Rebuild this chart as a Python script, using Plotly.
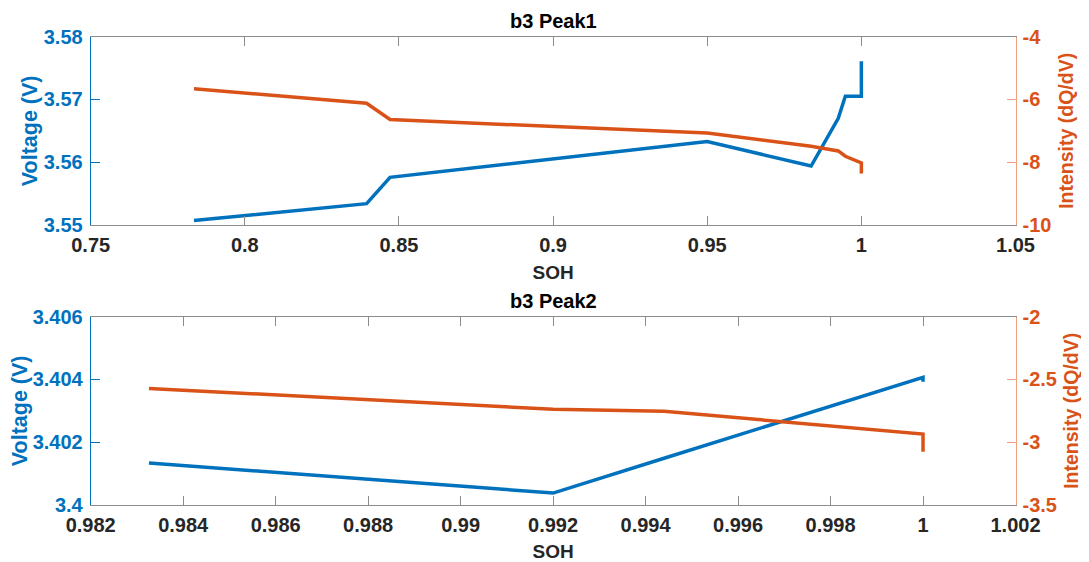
import plotly.graph_objects as go

# ---- data ----
soh1 = [0.7835, 0.8395, 0.8471, 0.9500, 0.9837, 0.9925, 0.9948, 1.0, 1.0]
volt1 = [3.5507, 3.5534, 3.5576, 3.5633, 3.5594, 3.5670, 3.5705, 3.5705, 3.5761]
inten1 = [-5.66, -6.12, -6.64, -7.07, -7.49, -7.64, -7.81, -8.02, -8.36]

soh2 = [0.98326, 0.9920, 0.9944, 1.0, 1.0]
volt2 = [3.40134, 3.40038, 3.40149, 3.40407, 3.40393]
inten2 = [-2.571, -2.738, -2.754, -2.935, -3.076]

titles = ["b3 Peak1", "b3 Peak2"]
x1_ticks = [0.75, 0.8, 0.85, 0.9, 0.95, 1.0, 1.05]
x1_text = ["0.75", "0.8", "0.85", "0.9", "0.95", "1", "1.05"]
y1_ticks = [3.55, 3.56, 3.57, 3.58]
y1_text = ["3.55", "3.56", "3.57", "3.58"]
r1_ticks = [-10, -8, -6, -4]
r1_text = ["-10", "-8", "-6", "-4"]
x2_ticks = [0.982, 0.984, 0.986, 0.988, 0.99, 0.992, 0.994, 0.996, 0.998, 1.0, 1.002]
x2_text = ["0.982", "0.984", "0.986", "0.988", "0.99", "0.992", "0.994", "0.996", "0.998", "1", "1.002"]
y2_ticks = [3.4, 3.402, 3.404, 3.406]
y2_text = ["3.4", "3.402", "3.404", "3.406"]
r2_ticks = [-3.5, -3, -2.5, -2]
r2_text = ["-3.5", "-3", "-2.5", "-2"]

BLUE = "#0072BD"
ORANGE = "#D95319"
DARK = "#262626"
GRAY = "#8c8c8c"
FONT = "Liberation Sans"

# figure sits at (8, 8) in the page because of the default body margin
W, H = 1081, 554
OFF = 8

fig = go.Figure()
fig.add_trace(go.Scatter(x=soh1, y=volt1, mode="lines", line=dict(color=BLUE, width=3.5),
                         xaxis="x", yaxis="y", showlegend=False))
fig.add_trace(go.Scatter(x=soh1, y=inten1, mode="lines", line=dict(color=ORANGE, width=3.5),
                         xaxis="x", yaxis="y2", showlegend=False))
fig.add_trace(go.Scatter(x=soh2, y=volt2, mode="lines", line=dict(color=BLUE, width=3.5),
                         xaxis="x2", yaxis="y3", showlegend=False))
fig.add_trace(go.Scatter(x=soh2, y=inten2, mode="lines", line=dict(color=ORANGE, width=3.5),
                         xaxis="x2", yaxis="y4", showlegend=False))

xdom = [(90.7 - OFF) / W, (1015.5 - OFF) / W]
dom_top = [1 - (225 - OFF) / H, 1 - (36.7 - OFF) / H]
dom_bot = [1 - (505 - OFF) / H, 1 - (316.7 - OFF) / H]

tickfont_x = dict(family=FONT, size=20, color=DARK, weight="bold")
tickfont_b = dict(family=FONT, size=20, color=BLUE, weight="bold")
tickfont_o = dict(family=FONT, size=20, color=ORANGE, weight="bold")
titlefont_x = dict(family=FONT, size=19, color=DARK, weight="bold")
titlefont_b = dict(family=FONT, size=21.5, color=BLUE, weight="bold")
titlefont_o = dict(family=FONT, size=19.5, color=ORANGE, weight="bold")


def xaxis(domain_anchor, rng, tv, tt):
    return dict(domain=xdom, anchor=domain_anchor, range=rng, tickvals=tv, ticktext=tt,
                showline=True, linecolor=GRAY, linewidth=1, mirror="ticks",
                ticks="inside", ticklen=9, tickcolor=GRAY, showgrid=False, zeroline=False,
                automargin=False, tickfont=tickfont_x, ticklabelstandoff=2,
                title=dict(text="SOH", font=titlefont_x, standoff=10))


def yleft(dom, anchor, rng, tv, tt):
    return dict(domain=dom, anchor=anchor, range=rng, tickvals=tv, ticktext=tt,
                showline=True, linecolor=BLUE, linewidth=1, ticks="inside", ticklen=9,
                tickcolor=BLUE, showgrid=False, zeroline=False, tickfont=tickfont_b,
                automargin=False, ticklabelstandoff=3,
                title=dict(text="Voltage (V)", font=titlefont_b, standoff=0))


def yright(overlay, anchor, rng, tv, tt):
    return dict(overlaying=overlay, anchor=anchor, side="right", range=rng, tickvals=tv,
                ticktext=tt, showline=True, linecolor="#F0A07C", linewidth=1, ticks="inside",
                ticklen=9, tickcolor="#F0A07C", showgrid=False, zeroline=False,
                tickfont=tickfont_o, automargin=False, ticklabelstandoff=2,
                title=dict(text="Intensity (dQ/dV)", font=titlefont_o, standoff=8))


fig.update_layout(
    width=W, height=H,
    margin=dict(l=0, r=0, t=0, b=0, autoexpand=False),
    paper_bgcolor="white", plot_bgcolor="white",
    xaxis=xaxis("y", [0.75, 1.05], x1_ticks, x1_text),
    yaxis=yleft(dom_top, "x", [3.55, 3.58], y1_ticks, y1_text),
    yaxis2=yright("y", "x", [-10, -4], r1_ticks, r1_text),
    xaxis2=xaxis("y3", [0.982, 1.002], x2_ticks, x2_text),
    yaxis3=yleft(dom_bot, "x2", [3.4, 3.406], y2_ticks, y2_text),
    yaxis4=yright("y3", "x2", [-3.5, -2], r2_ticks, r2_text),
)

for t, ytop in zip(titles, [dom_top[1], dom_bot[1]]):
    fig.add_annotation(text=t, xref="paper", yref="paper", x=(xdom[0] + xdom[1]) / 2,
                       y=ytop, yanchor="bottom", xanchor="center", showarrow=False, yshift=3,
                       font=dict(family=FONT, size=20, color="#000000", weight="bold"))

fig.write_html("out.html")
